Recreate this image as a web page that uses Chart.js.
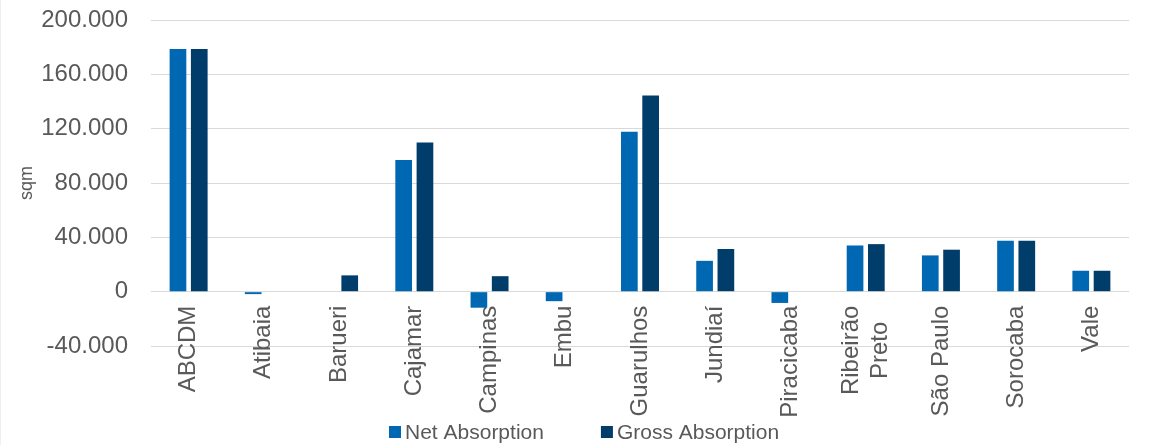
<!DOCTYPE html>
<html>
<head>
<meta charset="utf-8">
<script src="https://cdn.jsdelivr.net/npm/chart.js@4.4.1/dist/chart.umd.min.js"></script>
<style>
  html, body { margin: 0; padding: 0; background: #ffffff; }
  #wrap { width: 1153px; height: 445px; position: relative; }
  canvas { display: block; }
</style>
</head>
<body>
<div id="wrap"><canvas id="chart" width="1153" height="445"></canvas></div>
<script>
// Absorption by region (sqm)
const regions = [
  'ABCDM', 'Atibaia', 'Barueri', 'Cajamar', 'Campinas', 'Embu', 'Guarulhos',
  'Jundiaí', 'Piracicaba', ['Ribeirão', 'Preto'], 'São Paulo', 'Sorocaba', 'Vale'
];
const netAbsorption = [178700, -1800, null, 97000, -11800, -7000, 117800, 22700, -8300, 34000, 26700, 37500, 15400];
const grossAbsorption = [178700, null, 12000, 109800, 11400, null, 144500, 31400, null, 35000, 30900, 37500, 15400];

const seriesNames = ['Net Absorption', 'Gross Absorption'];
const seriesColors = ['#0068B2', '#003D6B'];

const yTickValues = [-40000, 0, 40000, 80000, 120000, 160000, 200000];
const yTickLabels = ['-40.000', '0', '40.000', '80.000', '120.000', '160.000', '200.000'];

const FONT = '"Liberation Sans", Arial, Helvetica, sans-serif';
const TEXT = '#595959';
const GRID = '#D9D9D9';

// Centers multi-line category labels on their tick, lines centred on each other
const centerMultiLineLabels = {
  id: 'centerMultiLineLabels',
  beforeDraw(chart) {
    const xs = chart.scales.x;
    const items = xs.getLabelItems(chart.chartArea);
    if (items._centered) return;
    items._centered = true;
    const ctx = chart.ctx;
    items.forEach(it => {
      if (Array.isArray(it.label) && it.label.length > 1) {
        const n = it.label.length;
        const lh = it.font.lineHeight;
        ctx.save();
        ctx.font = it.font.string;
        const w = Math.max(...it.label.map(s => ctx.measureText(s).width));
        ctx.restore();
        it.options.translation[0] -= lh * (n - 1) / 2;
        it.options.translation[1] += w / 2;
        it.options.textAlign = 'center';
      }
    });
  }
};

// Legend row under the plot: square swatch + series name
const bottomLegend = {
  id: 'bottomLegend',
  afterDraw(chart) {
    const ctx = chart.ctx;
    const size = 21;
    const box = 12, gap = 4, itemGap = 57;
    const cy = 432;
    ctx.save();
    ctx.font = size + 'px ' + FONT;
    ctx.textBaseline = 'middle';
    ctx.textAlign = 'left';
    const items = chart.data.datasets.map(ds => ({
      text: ds.label, color: ds.backgroundColor, w: ctx.measureText(ds.label).width
    }));
    const total = items.reduce((s, it) => s + box + gap + it.w, 0) + itemGap * (items.length - 1);
    let x = Math.round(chart.width / 2 + 8 - total / 2);
    items.forEach(it => {
      ctx.fillStyle = it.color;
      ctx.fillRect(x, cy - box / 2, box, box);
      ctx.fillStyle = TEXT;
      ctx.fillText(it.text, x + box + gap, cy + 1);
      x += box + gap + it.w + itemGap;
    });
    // chart frame edge
    ctx.fillStyle = '#EFEFEF';
    ctx.fillRect(0, 0, 1, chart.height);
    ctx.restore();
  }
};

new Chart(document.getElementById('chart'), {
  type: 'bar',
  data: {
    labels: regions,
    datasets: [
      { label: seriesNames[0], data: netAbsorption, backgroundColor: seriesColors[0] },
      { label: seriesNames[1], data: grossAbsorption, backgroundColor: seriesColors[1] }
    ]
  },
  options: {
    responsive: false,
    animation: false,
    devicePixelRatio: 1,
    categoryPercentage: 0.566,
    barPercentage: 0.784,
    layout: { padding: { top: 20, bottom: 99, left: 0, right: 24 } },
    plugins: {
      legend: { display: false },
      tooltip: { enabled: false }
    },
    scales: {
      x: {
        position: { y: 0 },
        grid: { display: false, drawTicks: false },
        border: { display: false },
        ticks: {
          autoSkip: false,
          maxRotation: 90,
          minRotation: 90,
          padding: 14,
          color: TEXT,
          font: { family: FONT, size: 24 }
        }
      },
      y: {
        min: -40000,
        max: 200000,
        // invisible tick marks provide the gap between labels and plot
        grid: { color: GRID, lineWidth: 1, drawTicks: true, tickLength: 23, tickColor: 'rgba(0,0,0,0)' },
        border: { display: false },
        afterFit(scale) { scale.width = 151; },
        ticks: {
          stepSize: 40000,
          padding: 0,
          color: TEXT,
          font: { family: FONT, size: 24 },
          callback: (v) => {
            const i = yTickValues.indexOf(v);
            return i >= 0 ? yTickLabels[i] : '';
          }
        },
        title: {
          display: true,
          text: 'sqm',
          color: TEXT,
          font: { family: FONT, size: 18 },
          padding: { top: 16, bottom: 0 }
        }
      }
    }
  },
  plugins: [centerMultiLineLabels, bottomLegend]
});
</script>
</body>
</html>
